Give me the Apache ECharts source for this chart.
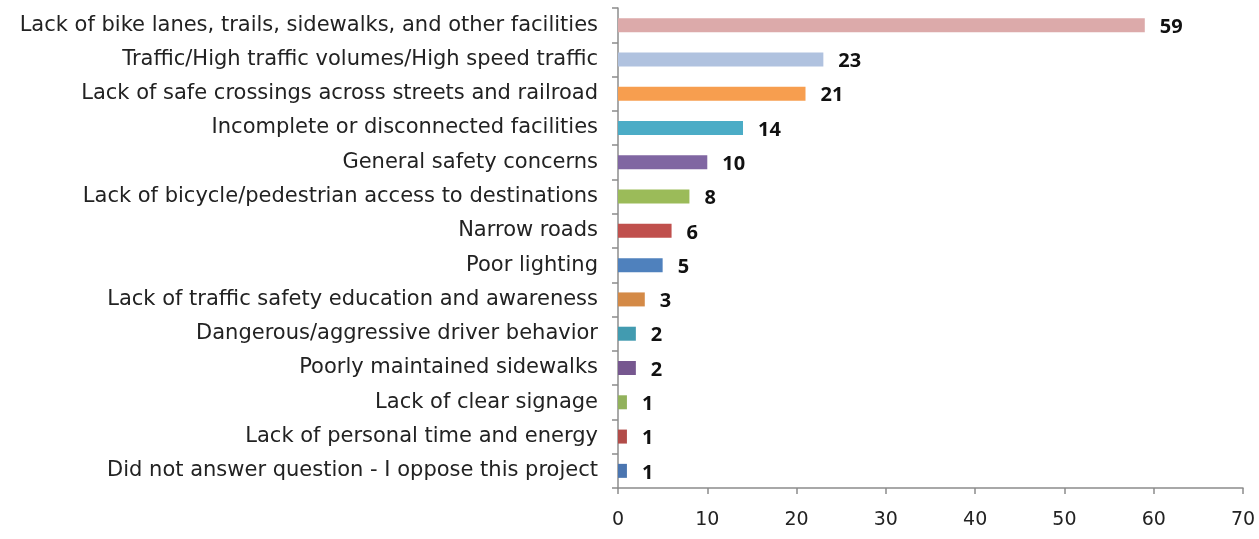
<!DOCTYPE html>
<html>
<head>
<meta charset="utf-8">
<script src="https://cdn.jsdelivr.net/npm/echarts@6/dist/echarts.min.js"></script>
<style>
  html, body { margin: 0; padding: 0; background: #ffffff; }
  #chart { width: 1259px; height: 539px; }
</style>
</head>
<body>
<div id="chart"></div>
<script>
// Reported barriers to walking and biking (number of responses)
const categories = [
  'Lack of bike lanes, trails, sidewalks, and other facilities',
  'Traffic/High traffic volumes/High speed traffic',
  'Lack of safe crossings across streets and railroad',
  'Incomplete or disconnected facilities',
  'General safety concerns',
  'Lack of bicycle/pedestrian access to destinations',
  'Narrow roads',
  'Poor lighting',
  'Lack of traffic safety education and awareness',
  'Dangerous/aggressive driver behavior',
  'Poorly maintained sidewalks',
  'Lack of clear signage',
  'Lack of personal time and energy',
  'Did not answer question - I oppose this project'
];
const responses = [59, 23, 21, 14, 10, 8, 6, 5, 3, 2, 2, 1, 1, 1];
const barColors = [
  '#dcaaaa', '#b0c2df', '#f79e4f', '#4bacc6', '#8066a2', '#9bbb59', '#c0504d',
  '#4f81bd', '#d48a47', '#429bb0', '#76578f', '#92b25c', '#b24c49', '#4a75b0'
];
const xTicks = { min: 0, max: 70, interval: 10 };

const labelFont = '"DejaVu Sans", "Noto Sans", sans-serif';
const valueFont = '"Noto Sans", "Open Sans", sans-serif';

const chart = echarts.init(document.getElementById('chart'));
chart.setOption({
  animation: false,
  grid: { left: 618, right: 16, top: 8, bottom: 51, containLabel: false },
  xAxis: {
    type: 'value',
    min: xTicks.min, max: xTicks.max, interval: xTicks.interval,
    axisLine: { show: true, lineStyle: { color: '#8c8c8c', width: 1.5 } },
    axisTick: { show: true, length: 6, lineStyle: { color: '#8c8c8c', width: 1.5 } },
    splitLine: { show: false },
    axisLabel: { color: '#222', fontFamily: labelFont, fontSize: 19, margin: 23 }
  },
  yAxis: {
    type: 'category',
    inverse: true,
    data: categories,
    axisLine: { show: true, lineStyle: { color: '#8c8c8c', width: 1.5 } },
    axisTick: { show: true, length: 6, alignWithLabel: false, lineStyle: { color: '#8c8c8c', width: 1.5 } },
    axisLabel: { color: '#222', fontFamily: labelFont, fontSize: 21, margin: 20 }
  },
  series: [{
    type: 'bar',
    data: responses.map((v, i) => ({ value: v, itemStyle: { color: barColors[i] } })),
    barWidth: 14,
    label: {
      show: true,
      position: 'right',
      distance: 15,
      offset: [0, 2],
      color: '#111',
      fontFamily: valueFont,
      fontWeight: 'bold',
      fontSize: 20
    }
  }]
});
</script>
</body>
</html>
